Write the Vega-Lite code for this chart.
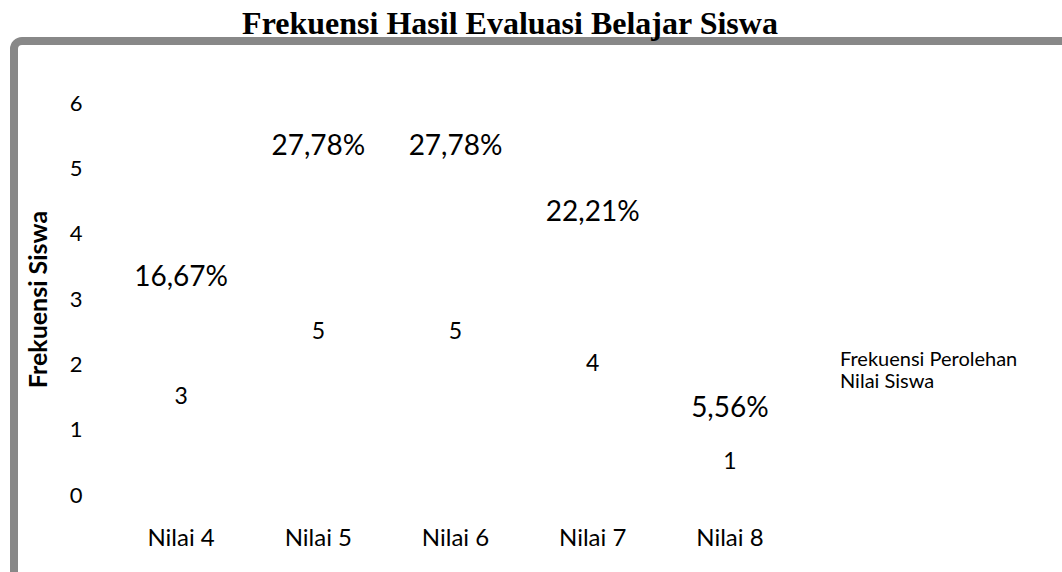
{
  "$schema": "https://vega.github.io/schema/vega-lite/v6.json",
  "autosize": "none",
  "width": 1070,
  "height": 560,
  "padding": {"left": 14, "top": 41, "right": 0, "bottom": 0},
  "background": "white",
  "config": {
    "view": {"stroke": "#888888", "strokeWidth": 8, "cornerRadius": 8},
    "font": "Lato"
  },
  "title": {
    "text": "Frekuensi Hasil Evaluasi Belajar Siswa",
    "font": "Liberation Serif",
    "fontSize": 32,
    "fontWeight": "bold",
    "color": "black",
    "anchor": "middle",
    "frame": "group",
    "baseline": "alphabetic",
    "offset": -25,
    "dx": -39
  },
  "data": {
    "values": [
      {"nilai": "Nilai 4", "count": 3, "persen": "16,67%", "seri": "Frekuensi Perolehan Nilai Siswa"},
      {"nilai": "Nilai 5", "count": 5, "persen": "27,78%", "seri": "Frekuensi Perolehan Nilai Siswa"},
      {"nilai": "Nilai 6", "count": 5, "persen": "27,78%", "seri": "Frekuensi Perolehan Nilai Siswa"},
      {"nilai": "Nilai 7", "count": 4, "persen": "22,21%", "seri": "Frekuensi Perolehan Nilai Siswa"},
      {"nilai": "Nilai 8", "count": 1, "persen": "5,56%", "seri": "Frekuensi Perolehan Nilai Siswa"}
    ]
  },
  "encoding": {
    "x": {
      "field": "nilai",
      "type": "nominal",
      "sort": null,
      "scale": {"range": [98.5, 784.5], "paddingInner": 0.4, "paddingOuter": 0.2},
      "axis": {
        "title": null,
        "labelAngle": 0,
        "domain": false,
        "ticks": false,
        "offset": -75,
        "labelPadding": 0,
        "labelFontSize": 24,
        "labelColor": "black",
        "labelFont": "Lato"
      }
    }
  },
  "layer": [
    {
      "mark": {"type": "bar", "fill": "white"},
      "encoding": {
        "y": {
          "field": "count",
          "type": "quantitative",
          "scale": {"domain": [0, 6], "range": [454, 62], "nice": false},
          "axis": {
            "title": "Frekuensi Siswa",
            "titleFontSize": 25,
            "titleFontWeight": "bold",
            "titleColor": "black",
            "titlePadding": 18,
            "titleFont": "Lato",
            "values": [0, 1, 2, 3, 4, 5, 6],
            "grid": false,
            "domain": false,
            "ticks": false,
            "offset": -70,
            "labelPadding": 2,
            "labelFontSize": 22,
            "labelColor": "black",
            "labelFont": "Lato"
          }
        },
        "color": {
          "field": "seri",
          "type": "nominal",
          "scale": {"range": ["white"]},
          "legend": {
            "title": null,
            "orient": "none",
            "legendX": 802,
            "legendY": 309,
            "padding": 0,
            "symbolType": "square",
            "symbolSize": 100,
            "symbolOpacity": 0,
            "symbolStrokeWidth": 0,
            "labelOffset": 4,
            "labelFontSize": 20,
            "labelColor": "black",
            "labelFont": "Lato",
            "labelLimit": 400,
            "labelExpr": "['Frekuensi Perolehan', 'Nilai Siswa']"
          }
        }
      }
    },
    {
      "mark": {"type": "text", "fontSize": 28, "baseline": "alphabetic", "dy": -13, "color": "black", "font": "Lato"},
      "encoding": {
        "y": {
          "field": "count",
          "type": "quantitative",
          "scale": {"domain": [0, 6], "range": [454, 62], "nice": false},
          "axis": null
        },
        "text": {"field": "persen"}
      }
    },
    {
      "mark": {"type": "text", "fontSize": 23, "baseline": "middle", "color": "black", "font": "Lato"},
      "encoding": {
        "y": {
          "field": "count",
          "type": "quantitative",
          "scale": {"domain": [0, 12], "range": [454, 62], "nice": false},
          "axis": null
        },
        "text": {"field": "count"}
      }
    }
  ],
  "resolve": {"scale": {"y": "independent"}}
}
